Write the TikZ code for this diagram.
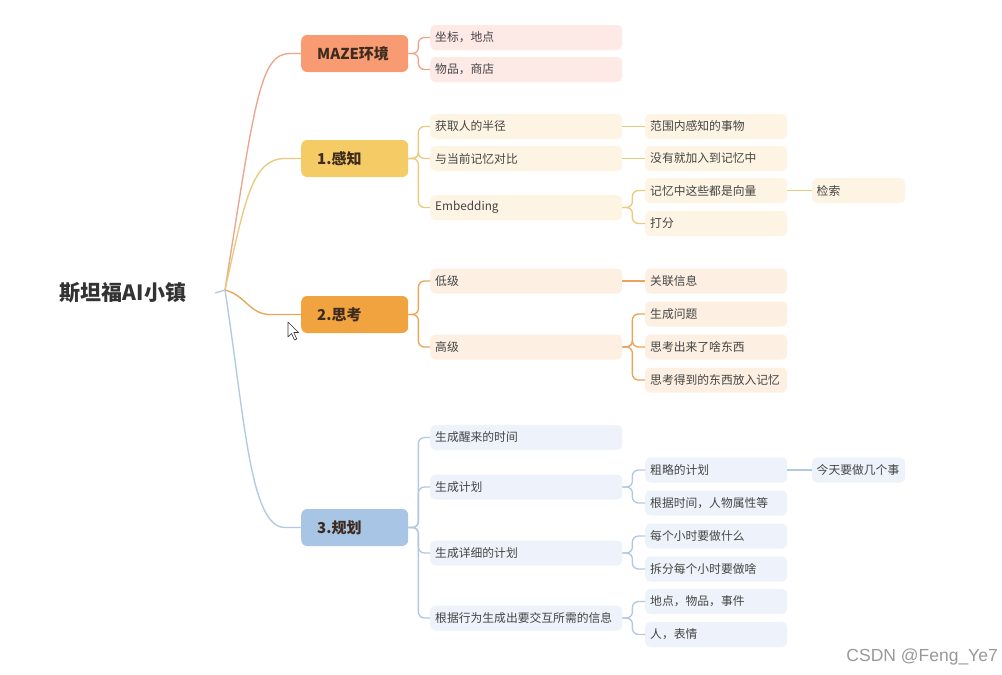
\documentclass[tikz,border=0pt]{standalone}
\usepackage{fontspec}
\setmainfont{Noto Sans CJK SC}
\newfontfamily\wmfont{Liberation Sans}
\definecolor{mazefill}{HTML}{F99B72}
\definecolor{mazeline}{HTML}{EDA58C}
\definecolor{mazechild}{HTML}{FDEAE6}
\definecolor{ganfill}{HTML}{F4CB64}
\definecolor{ganline}{HTML}{E8CB7E}
\definecolor{ganchild}{HTML}{FEF4E4}
\definecolor{sifill}{HTML}{F0A33F}
\definecolor{siline}{HTML}{E9A65A}
\definecolor{sichild}{HTML}{FDF0E2}
\definecolor{guifill}{HTML}{A9C5E6}
\definecolor{guiline}{HTML}{B3C9E1}
\definecolor{guichild}{HTML}{EEF3FB}
\definecolor{maintxt}{HTML}{3D2B1F}
\definecolor{childtxt}{HTML}{444444}
\definecolor{roottxt}{HTML}{333333}
\tikzset{
  mainbox/.style={rectangle, rounded corners=6pt, minimum height=37pt, text width=75pt, inner xsep=16pt, inner ysep=0pt, align=left, font=\fontsize{15}{18}\selectfont\bfseries, text=maintxt, anchor=west},
  l2box/.style={rectangle, rounded corners=5pt, minimum height=25pt, text width=182pt, inner xsep=5pt, inner ysep=0pt, align=left, font=\fontsize{11.8}{14}\selectfont, text=childtxt, anchor=west},
  l3box/.style={l2box, text width=132pt},
  l4box/.style={l2box, text width=84pt, inner xsep=4.5pt},
  conn/.style={line width=1.35pt, rounded corners=6pt},
  rootconn/.style={line width=1.35pt},
}
\begin{document}
\begin{tikzpicture}[x=1pt,y=-1pt]
\useasboundingbox (0,0) rectangle (1002,675);
\fill[white] (0,0) rectangle (1002,675);
% root
\node[minimum width=184pt, inner sep=0pt, font=\fontsize{21}{25}\selectfont\bfseries, text=roottxt] (root) at (123,293) {斯坦福AI小镇};
\coordinate (R) at (225,290);
% main nodes
\node[mainbox, fill=mazefill] (maze) at (301,53.5) {MAZE环境};
\node[mainbox, fill=ganfill] (gan) at (301,158.5) {1.感知};
\node[mainbox, fill=sifill] (si) at (301,314.5) {2.思考};
\node[mainbox, fill=guifill] (gui) at (301,527.5) {3.规划};
% root connectors
\draw[guiline, rootconn] (root.east) -- (R);
\draw[mazeline, rootconn] (R) .. controls (255,100) and (260,53.5) .. (290,53.5) -- (maze.west);
\draw[ganline, rootconn] (R) .. controls (245,200) and (252,158.5) .. (285,158.5) -- (gan.west);
\draw[siline, rootconn] (R) .. controls (245,295) and (250,314.5) .. (270,314.5) -- (si.west);
\draw[guiline, rootconn] (R) .. controls (245,420) and (250,527.5) .. (285,527.5) -- (gui.west);
% MAZE branch
\node[l2box, fill=mazechild] (m1) at (430,37.5) {坐标，地点};
\node[l2box, fill=mazechild] (m2) at (430,69.5) {物品，商店};
\foreach \c in {m1,m2} \draw[conn, mazeline] (maze.east) -- ++(10,0) |- (\c.west);
% 感知 branch
\node[l2box, fill=ganchild] (a1) at (430,126.5) {获取人的半径};
\node[l2box, fill=ganchild] (a2) at (430,158.5) {与当前记忆对比};
\node[l2box, fill=ganchild] (a3) at (430,207.5) {Embedding};
\foreach \c in {a1,a2,a3} \draw[conn, ganline] (gan.east) -- ++(10,0) |- (\c.west);
\node[l3box, fill=ganchild] (a11) at (645,126.5) {范围内感知的事物};
\node[l3box, fill=ganchild] (a21) at (645,158.5) {没有就加入到记忆中};
\node[l3box, fill=ganchild] (a31) at (645,190.5) {记忆中这些都是向量};
\node[l3box, fill=ganchild] (a32) at (645,223.5) {打分};
\node[l4box, fill=ganchild] (a311) at (812,190.5) {检索};
\draw[conn, ganline] (a1.east) -- (a11.west);
\draw[conn, ganline] (a2.east) -- (a21.west);
\foreach \c in {a31,a32} \draw[conn, ganline] (a3.east) -- ++(10,0) |- (\c.west);
\draw[conn, ganline] (a31.east) -- (a311.west);
% 思考 branch
\node[l2box, fill=sichild] (b1) at (430,281) {低级};
\node[l2box, fill=sichild] (b2) at (430,347) {高级};
\foreach \c in {b1,b2} \draw[conn, siline] (si.east) -- ++(10,0) |- (\c.west);
\node[l3box, fill=sichild] (b11) at (645,281) {关联信息};
\node[l3box, fill=sichild] (b21) at (645,314) {生成问题};
\node[l3box, fill=sichild] (b22) at (645,347) {思考出来了啥东西};
\node[l3box, fill=sichild] (b23) at (645,380) {思考得到的东西放入记忆};
\draw[conn, siline] (b1.east) -- (b11.west);
\foreach \c in {b21,b22,b23} \draw[conn, siline] (b2.east) -- ++(10,0) |- (\c.west);
% 规划 branch
\node[l2box, fill=guichild] (c1) at (430,437.5) {生成醒来的时间};
\node[l2box, fill=guichild] (c2) at (430,487) {生成计划};
\node[l2box, fill=guichild] (c3) at (430,553) {生成详细的计划};
\node[l2box, fill=guichild] (c4) at (430,618) {根据行为生成出要交互所需的信息};
\foreach \c in {c1,c2,c3,c4} \draw[conn, guiline] (gui.east) -- ++(10,0) |- (\c.west);
\node[l3box, fill=guichild] (c21) at (645,470) {粗略的计划};
\node[l3box, fill=guichild] (c22) at (645,503) {根据时间，人物属性等};
\node[l4box, fill=guichild] (c211) at (812,470) {今天要做几个事};
\node[l3box, fill=guichild] (c31) at (645,536) {每个小时要做什么};
\node[l3box, fill=guichild] (c32) at (645,569) {拆分每个小时要做啥};
\node[l3box, fill=guichild] (c41) at (645,601.5) {地点，物品，事件};
\node[l3box, fill=guichild] (c42) at (645,634.5) {人，表情};
\foreach \c in {c21,c22} \draw[conn, guiline] (c2.east) -- ++(10,0) |- (\c.west);
\draw[conn, guiline] (c21.east) -- (c211.west);
\foreach \c in {c31,c32} \draw[conn, guiline] (c3.east) -- ++(10,0) |- (\c.west);
\foreach \c in {c41,c42} \draw[conn, guiline] (c4.east) -- ++(10,0) |- (\c.west);
% mouse cursor
\draw[fill=white, draw=black!80, line width=0.6pt, line join=round] (288,322) -- (288,337) -- (291.5,333.5) -- (294.5,340) -- (296.8,339) -- (293.8,332.5) -- (298.5,332.5) -- cycle;
% watermark
\node[font=\wmfont\fontsize{17.5}{20}\selectfont, text=black!40, anchor=east, inner sep=0pt] (wm) at (998,657) {CSDN @Feng\_Ye7};
\end{tikzpicture}
\end{document}
